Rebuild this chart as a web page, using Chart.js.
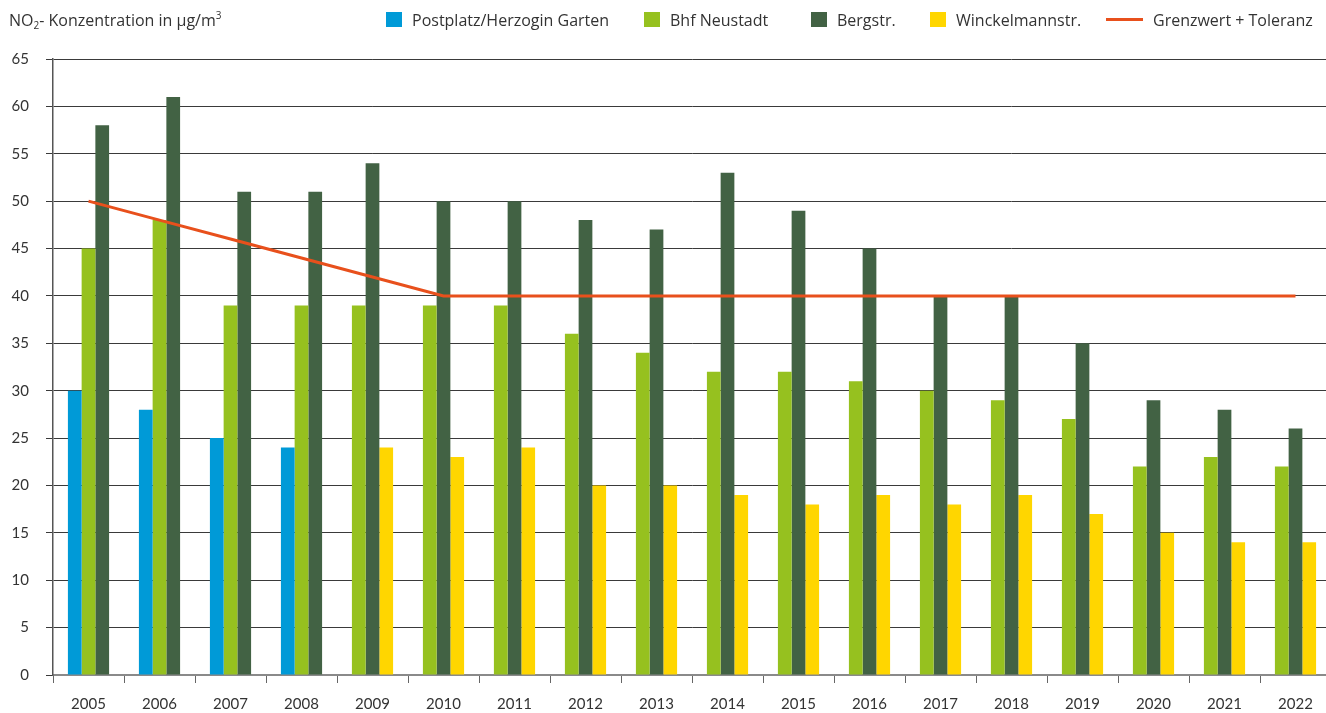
<!DOCTYPE html>
<html lang="de">
<head>
<meta charset="utf-8">
<title>NO2-Konzentration</title>
<script src="https://cdn.jsdelivr.net/npm/chart.js@4/dist/chart.umd.min.js"></script>
<style>
  html, body { margin: 0; padding: 0; background: #fff; overflow: hidden; }
  #wrap { position: relative; width: 1326px; height: 713px; overflow: hidden; }
  #chart { position: absolute; left: 0; top: 0; }
  .txt { font-family: "Open Sans", Lato, sans-serif; font-size: 16px; color: #333; white-space: nowrap; }
  #title { position: absolute; left: 9px; top: 9px; }
  #title sub { font-size: 10px; vertical-align: -3px; line-height: 0; }
  #title sup { font-size: 10px; vertical-align: 7px; line-height: 0; }
  .item { position: absolute; top: 11px; height: 17px; display: flex; align-items: center; }
  .sw { width: 16px; height: 15px; margin-right: 10px; flex: none; }
  .ln { width: 37px; height: 3px; margin-right: 10px; flex: none; }
</style>
</head>
<body>
<div id="wrap">
  <canvas id="chart" width="1332" height="713"></canvas>
  <div id="title" class="txt">NO<sub>2</sub>- Konzentration in µg/m<sup>3</sup></div>
  <div id="legend"></div>
</div>
<script>
// Jahre der Messreihe
const years = ['2005','2006','2007','2008','2009','2010','2011','2012','2013',
               '2014','2015','2016','2017','2018','2019','2020','2021','2022'];

// Jahresmittelwerte NO2 in µg/m³ je Messstelle
const postplatz = [30, 28, 25, 24, null, null, null, null, null,
                   null, null, null, null, null, null, null, null, null];
const bhfNeustadt = [45, 48, 39, 39, 39, 39, 39, 36, 34,
                     32, 32, 31, 30, 29, 27, 22, 23, 22];
const bergstr = [58, 61, 51, 51, 54, 50, 50, 48, 47,
                 53, 49, 45, 40, 40, 35, 29, 28, 26];
const winckelmannstr = [null, null, null, null, 24, 23, 24, 20, 20,
                        19, 18, 19, 18, 19, 17, 15, 14, 14];

// Grenzwert zuzüglich Toleranzmarge
const grenzwert = [50, 48, 46, 44, 42, 40, 40, 40, 40,
                   40, 40, 40, 40, 40, 40, 40, 40, 40];

// Achsenbeschriftung der y-Achse
const yMin = 0, yMax = 65, yStep = 5;

const labels = {
  postplatz: 'Postplatz/Herzogin Garten',
  bhf: 'Bhf Neustadt',
  berg: 'Bergstr.',
  winckel: 'Winckelmannstr.',
  grenz: 'Grenzwert + Toleranz'
};

const colors = {
  postplatz: '#009ad7',
  bhf: '#96c11f',
  berg: '#426244',
  winckel: '#ffd600',
  grenz: '#e8501c'
};

const font = { family: 'Lato, "Open Sans", sans-serif', size: 15 };

const barStyle = { categoryPercentage: 0.58, barPercentage: 1.0, skipNull: true, order: 1, borderWidth: 0 };

const chart = new Chart(document.getElementById('chart'), {
  data: {
    labels: years,
    datasets: [
      { type: 'bar', label: labels.postplatz, data: postplatz, backgroundColor: colors.postplatz, ...barStyle },
      { type: 'bar', label: labels.bhf, data: bhfNeustadt, backgroundColor: colors.bhf, ...barStyle },
      { type: 'bar', label: labels.berg, data: bergstr, backgroundColor: colors.berg, ...barStyle },
      { type: 'bar', label: labels.winckel, data: winckelmannstr, backgroundColor: colors.winckel, ...barStyle },
      { type: 'line', label: labels.grenz, data: grenzwert, borderColor: colors.grenz, backgroundColor: colors.grenz,
        borderWidth: 3, pointRadius: 0, tension: 0, order: 0, fill: false }
    ]
  },
  options: {
    responsive: false,
    animation: false,
    devicePixelRatio: 1,
    layout: { padding: { top: 59, right: 1, bottom: 0, left: 0 } },
    plugins: { legend: { display: false }, tooltip: { enabled: false }, title: { display: false } },
    scales: {
      x: {
        type: 'category',
        offset: true,
        afterFit: s => { s.height = 38; },
        grid: { offset: true, drawOnChartArea: false, tickLength: 8, color: '#666', lineWidth: 1 },
        border: { display: true, color: '#8a8a8a', width: 2 },
        ticks: { font, color: '#333', padding: 12, maxRotation: 0, autoSkip: false }
      },
      y: {
        min: yMin, max: yMax,
        afterFit: s => { s.width = 53; },
        grid: { color: '#3a3a3a', lineWidth: 1, tickLength: 7 },
        border: { display: true, color: '#555', width: 1.5 },
        ticks: { stepSize: yStep, font, color: '#333', padding: 17 }
      }
    }
  }
});

// Legende oben rechts aus den Datensätzen
const legendLeft = [386, 644, 811, 930, 1106];
const legendEl = document.getElementById('legend');
chart.data.datasets.forEach((ds, i) => {
  const item = document.createElement('div');
  item.className = 'item txt';
  item.style.left = legendLeft[i] + 'px';
  const mark = document.createElement('span');
  mark.className = ds.type === 'line' ? 'ln' : 'sw';
  mark.style.background = ds.type === 'line' ? ds.borderColor : ds.backgroundColor;
  const text = document.createElement('span');
  text.textContent = ds.label;
  item.appendChild(mark);
  item.appendChild(text);
  legendEl.appendChild(item);
});
</script>
</body>
</html>
